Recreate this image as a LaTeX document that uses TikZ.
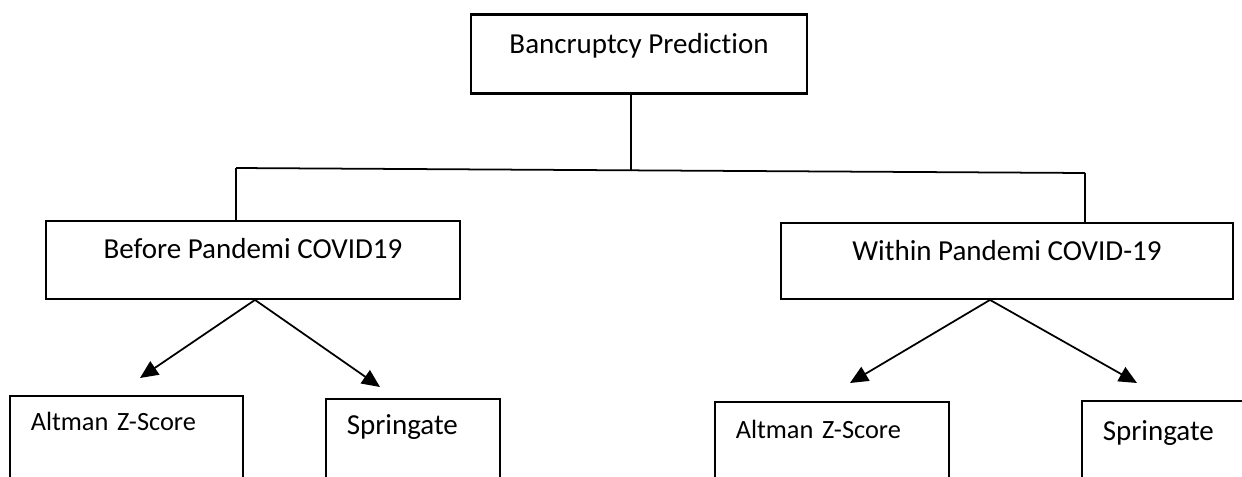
\documentclass[tikz,border=0pt]{standalone}
\usepackage{fontspec}
\setmainfont{Carlito}[Ligatures=NoCommon]
\usepackage{tikz}
\usetikzlibrary{arrows.meta,positioning}
\tikzset{
    box/.style={draw,rectangle,inner sep=0pt,line width=1.1pt},
    head box/.style={box,line width=1.6pt},
    leaf box/.style={box,line width=0.9pt,anchor=north west,text depth=1.6cm,inner xsep=0.42cm,align=left},
    small text/.style={font=\fontsize{15}{18}\selectfont},
    link/.style={line width=1pt},
    arr/.style={link,->,>={Triangle[length=0.36cm,width=0.32cm]}},
}
\tikzstyle{every node}=[font=\fontsize{16.5}{20}\selectfont]

\begin{document}
\begin{tikzpicture}[x=0.02cm,y=-0.02cm]
        \useasboundingbox (0,0) rectangle (1242,477);
        \clip (0,0) rectangle (1242,477);
        % tree
        \node[head box,anchor=north,minimum width=6.72cm,text height=0.78cm,text depth=0.8cm] (bp) at (639,13) {Bancruptcy Prediction};
        \node[box,anchor=north,minimum width=8.28cm,text height=0.76cm,text depth=0.8cm] (before) at (253,220) {Before Pandemi COVID19};
        \node[box,anchor=north,minimum width=9.04cm,text height=0.76cm,text depth=0.76cm] (within) at (1007,222) {Within Pandemi COVID-19};
        \node[leaf box,small text,text width=3.82cm,text height=0.7cm] (altman before) at (9,395) {Altman Z-Score};
        \node[leaf box,text width=2.64cm,text height=0.72cm] (springate before) at (325,398) {Springate};
        \node[leaf box,small text,text width=3.84cm,text height=0.74cm] (altman within) at (714,401) {Altman Z-Score};
        \node[leaf box,text width=3.16cm,text height=0.8cm] (springate within) at (1081,400) {Springate};
        % split
        \coordinate (split left) at (236,168);
        \coordinate (split mid) at (631,170);
        \coordinate (split right) at (1085,173);
        \draw[link] (bp.south -| split mid) -- (split mid);
        \draw[link] (split left) -- (split right);
        \draw[link] (split left) -- (before.north -| split left);
        \draw[link] (split right) -- (within.north -| split right);
        % arrows
        \coordinate (tip a) at (140,378);
        \coordinate (tip b) at (380,387);
        \coordinate (tip c) at (850,383);
        \coordinate (tip d) at (1137,383);
        \draw[arr] ([xshift=0.04cm]before.south) -- (tip a);
        \draw[arr] ([xshift=0.04cm]before.south) -- (tip b);
        \draw[arr] ([xshift=-0.34cm]within.south) -- (tip c);
        \draw[arr] ([xshift=-0.34cm]within.south) -- (tip d);
\end{tikzpicture}
\end{document}
